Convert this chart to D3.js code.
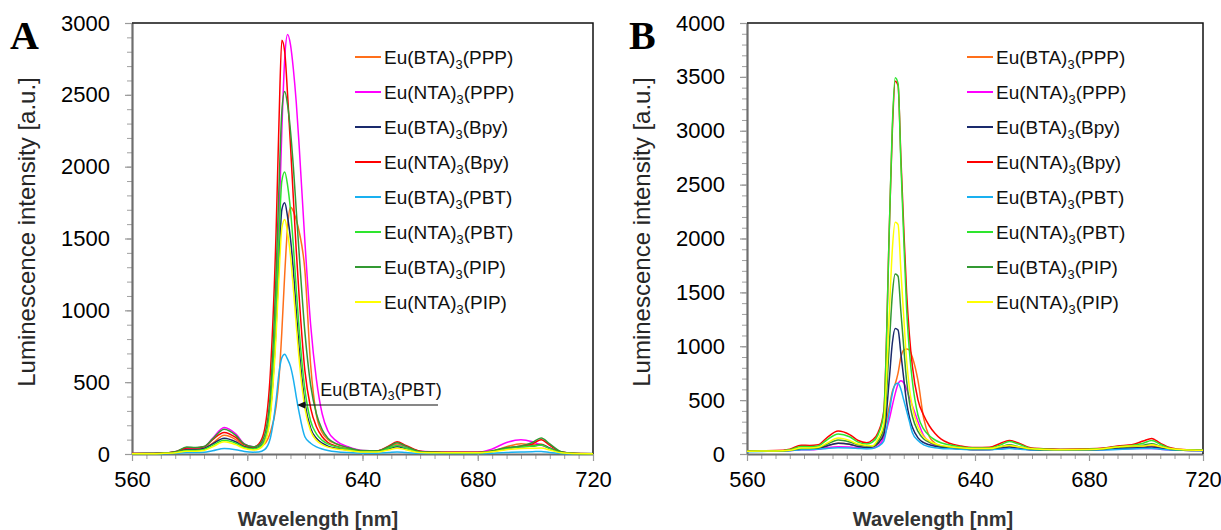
<!DOCTYPE html>
<html>
<head>
  <meta charset="utf-8">
  <title>Eu complexes emission</title>
  <style>
    body { margin: 0; background: #fff; }
    svg text { font-family: 'Liberation Sans', Arial, sans-serif; }
    svg text.letter { font-family: 'Liberation Serif', 'Times New Roman', serif; font-weight: bold; }
  </style>
</head>
<body>
  <div id="chart"></div>
  <script src="https://d3js.org/d3.v7.min.js"></script>
  <script>
    // wavelength grid (nm) shared by every curve
    let wavelengths = [560, 565, 570, 575, 579, 582, 585, 588, 592, 596,
      599, 602, 604, 606, 608, 610, 611, 612, 613, 614,
      615, 616, 617, 618, 620, 622, 624, 626, 628, 631,
      635, 640, 645, 649, 652, 655, 660, 665, 670, 680,
      685, 690, 695, 699, 702, 705, 709, 713, 720];

    let seriesNames = ['BTA|PPP', 'NTA|PPP', 'BTA|Bpy', 'NTA|Bpy', 'BTA|PBT', 'NTA|PBT', 'BTA|PIP', 'NTA|PIP'];
    let seriesColors = ['#ff6f1a', '#ff00ff', '#1a2a6c', '#ff0000', '#19b0f0', '#2ee52e', '#339933', '#ffff00'];

    let xTicks = [560, 600, 640, 680, 720];
    let yTicksA = [0, 500, 1000, 1500, 2000, 2500, 3000];
    let yTicksB = [0, 500, 1000, 1500, 2000, 2500, 3000, 3500, 4000];

    // panel A
    let aBtaPpp = [3, 3, 5, 12, 30, 32, 40, 75, 130, 100,
      55, 42, 50, 70, 150, 330, 520, 850, 1250, 1580,
      1717, 1690, 1630, 1550, 1280, 620, 270, 150, 100, 70,
      45, 22, 22, 45, 70, 50, 18, 12, 10, 10,
      20, 50, 72, 65, 70, 40, 10, 4, 2];
    let aNtaPpp = [3, 3, 5, 15, 40, 42, 50, 110, 185, 140,
      70, 50, 60, 100, 300, 1000, 1600, 2250, 2750, 2920,
      2850, 2680, 2450, 2150, 1480, 900, 520, 280, 160, 90,
      50, 25, 22, 40, 60, 45, 20, 15, 12, 12,
      35, 80, 100, 85, 62, 40, 12, 5, 2];
    let aBtaBpy = [2, 3, 5, 12, 30, 30, 38, 70, 110, 85,
      50, 40, 50, 90, 290, 880, 1330, 1700, 1748, 1650,
      1500, 1280, 1000, 740, 360, 180, 110, 75, 55, 40,
      28, 18, 18, 35, 50, 38, 15, 10, 9, 9,
      18, 40, 50, 55, 65, 40, 10, 4, 2];
    let aNtaBpy = [3, 3, 5, 15, 42, 42, 50, 100, 150, 115,
      65, 48, 70, 170, 560, 1540, 2300, 2880, 2800, 2500,
      2150, 1780, 1420, 1100, 580, 320, 190, 120, 80, 55,
      35, 22, 22, 55, 85, 60, 20, 14, 12, 12,
      20, 40, 55, 70, 100, 60, 15, 5, 2];
    let aBtaPbt = [1, 1, 2, 5, 10, 10, 12, 22, 38, 30,
      18, 13, 14, 30, 110, 370, 560, 670, 694, 660,
      610, 520, 400, 290, 120, 75, 50, 35, 25, 16,
      10, 6, 6, 10, 14, 10, 5, 4, 4, 4,
      6, 10, 14, 16, 18, 10, 4, 2, 1];
    let aNtaPbt = [2, 3, 4, 10, 25, 25, 32, 60, 95, 75,
      45, 35, 45, 95, 320, 1000, 1500, 1900, 1963, 1870,
      1700, 1450, 1150, 870, 450, 230, 140, 95, 70, 50,
      33, 18, 18, 40, 60, 42, 14, 10, 9, 9,
      18, 38, 50, 55, 62, 38, 10, 4, 2];
    let aBtaPip = [3, 3, 5, 15, 48, 45, 52, 105, 172, 130,
      68, 50, 62, 130, 420, 1250, 1850, 2380, 2523, 2430,
      2250, 2000, 1700, 1400, 850, 480, 280, 170, 110, 70,
      45, 24, 22, 50, 78, 55, 18, 12, 10, 10,
      22, 45, 55, 80, 112, 70, 15, 5, 3];
    let aNtaPip = [2, 2, 4, 8, 20, 20, 25, 50, 85, 65,
      38, 28, 35, 75, 260, 820, 1230, 1570, 1632, 1540,
      1380, 1150, 900, 660, 320, 160, 95, 65, 48, 35,
      25, 14, 14, 28, 40, 30, 10, 8, 8, 8,
      15, 30, 38, 40, 42, 28, 8, 3, 2];

    // panel B
    let bBtaPpp = [25, 27, 28, 35, 50, 50, 55, 75, 100, 90,
      70, 60, 65, 100, 200, 450, 580, 650, 750, 900,
      965, 974, 965, 900, 680, 330, 160, 100, 75, 60,
      50, 40, 42, 55, 70, 60, 40, 35, 35, 38,
      45, 60, 65, 70, 75, 60, 40, 35, 32];
    let bNtaPpp = [25, 27, 28, 32, 40, 40, 45, 58, 68, 65,
      58, 52, 55, 75, 150, 330, 450, 560, 650, 680,
      660, 600, 520, 450, 300, 170, 110, 80, 65, 55,
      48, 42, 42, 48, 55, 50, 40, 38, 38, 38,
      40, 45, 50, 50, 52, 45, 38, 35, 32];
    let bBtaBpy = [25, 27, 28, 33, 45, 45, 50, 75, 100, 90,
      70, 60, 65, 100, 180, 720, 1030, 1165, 1150, 930,
      700, 480, 340, 250, 150, 105, 85, 72, 63, 56,
      48, 42, 42, 55, 65, 55, 40, 38, 38, 38,
      42, 50, 55, 60, 65, 55, 40, 35, 32];
    let bNtaBpy = [28, 30, 32, 45, 82, 80, 85, 150, 213, 180,
      125, 105, 130, 200, 400, 2150, 3000, 3460, 3420, 2750,
      2100, 1500, 1100, 820, 500, 360, 260, 190, 140, 100,
      75, 60, 62, 100, 125, 105, 55, 48, 45, 48,
      55, 75, 85, 120, 145, 100, 55, 42, 38];
    let bBtaPbt = [22, 24, 25, 30, 40, 40, 45, 52, 58, 56,
      52, 48, 50, 70, 120, 400, 560, 645, 656, 600,
      500, 400, 300, 200, 125, 85, 68, 58, 52, 48,
      44, 40, 40, 45, 50, 46, 38, 36, 36, 36,
      38, 42, 46, 50, 52, 45, 38, 34, 30];
    let bNtaPbt = [25, 27, 28, 40, 70, 68, 75, 130, 186, 160,
      110, 92, 110, 180, 380, 2150, 3050, 3492, 3440, 2700,
      2000, 1350, 950, 680, 360, 230, 170, 130, 105, 85,
      65, 55, 55, 85, 115, 95, 50, 45, 42, 45,
      50, 68, 78, 100, 125, 90, 50, 40, 36];
    let bBtaPip = [25, 27, 28, 34, 52, 52, 58, 90, 130, 112,
      85, 75, 72, 120, 240, 1050, 1480, 1670, 1650, 1320,
      990, 680, 480, 350, 210, 140, 108, 88, 75, 65,
      55, 48, 48, 65, 85, 70, 45, 40, 40, 40,
      46, 62, 70, 82, 95, 72, 45, 38, 34];
    let bNtaPip = [25, 27, 28, 35, 55, 55, 62, 100, 148, 125,
      92, 80, 75, 140, 280, 1350, 1900, 2150, 2130, 1700,
      1270, 870, 610, 440, 250, 160, 120, 95, 80, 68,
      58, 50, 50, 70, 80, 68, 48, 42, 40, 42,
      48, 65, 75, 75, 85, 70, 48, 40, 35];

    let panelA = [aBtaPpp, aNtaPpp, aBtaBpy, aNtaBpy, aBtaPbt, aNtaPbt, aBtaPip, aNtaPip];
    let panelB = [bBtaPpp, bNtaPpp, bBtaBpy, bNtaBpy, bBtaPbt, bNtaPbt, bBtaPip, bNtaPip];

    function translate(x, y) {
      return 'translate(' + x + ',' + y + ')';
    }

    let svg = d3.select('#chart').append('svg')
      .attr('width', 1221)
      .attr('height', 530);

    // writes Eu(XXX)3(YYY) with a subscript 3
    function euLabel(sel, name, size) {
      let parts = name.split('|');
      sel.append('tspan').text('Eu(' + parts[0] + ')');
      sel.append('tspan').attr('font-size', size * 0.68).attr('dy', size * 0.25).text('3');
      sel.append('tspan').attr('dy', -size * 0.25).text('(' + parts[1] + ')');
    }

    function drawPanel(p) {
      let x = d3.scaleLinear().domain([560, 720]).range([p.left, p.right]);
      let y = d3.scaleLinear().domain([0, p.yMax]).range([p.bottom, p.top]);
      let g = svg.append('g');

      // minor ticks
      g.append('g')
        .attr('transform', translate(0, p.bottom))
        .call(d3.axisBottom(x).tickValues(d3.range(560, 721, 5)).tickSize(5).tickSizeOuter(0).tickFormat(''))
        .call(a => a.select('.domain').remove())
        .call(a => a.selectAll('line').attr('stroke', '#a0a0a0'));
      g.append('g')
        .attr('transform', translate(p.left, 0))
        .call(d3.axisLeft(y).tickValues(d3.range(0, p.yMax + 1, 100)).tickSize(5).tickSizeOuter(0).tickFormat(''))
        .call(a => a.select('.domain').remove())
        .call(a => a.selectAll('line').attr('stroke', '#a0a0a0'));

      // major ticks + labels
      let xAxis = g.append('g')
        .attr('transform', translate(0, p.bottom))
        .call(d3.axisBottom(x).tickValues(xTicks).tickSize(7).tickPadding(10).tickSizeOuter(0).tickFormat(d3.format('d')));
      let yAxis = g.append('g')
        .attr('transform', translate(p.left, 0))
        .call(d3.axisLeft(y).tickValues(p.yTicks).tickSize(7).tickPadding(15).tickSizeOuter(0).tickFormat(d3.format('d')));
      [xAxis, yAxis].forEach(a => {
        a.attr('font-family', null);
        a.select('.domain').attr('stroke', '#6e6e6e').attr('stroke-width', 2.2);
        a.selectAll('.tick line').attr('stroke', '#9a9a9a').attr('stroke-width', 1.2);
        a.selectAll('.tick text').attr('font-size', 22).attr('fill', '#000');
      });

      // top and right border
      g.append('path')
        .attr('d', 'M' + p.left + ',' + p.top + 'H' + p.right + 'V' + p.bottom)
        .attr('fill', 'none')
        .attr('stroke', '#111')
        .attr('stroke-width', 1.5);

      let line = d3.line()
        .x((d, i) => x(wavelengths[i]))
        .y(d => y(d))
        .curve(d3.curveMonotoneX);

      g.selectAll('.curve')
        .data(p.series)
        .enter()
        .append('path')
        .attr('class', 'curve')
        .attr('d', d => line(d))
        .attr('fill', 'none')
        .attr('stroke', (d, i) => seriesColors[i])
        .attr('stroke-width', 1.5);

      // legend
      let leg = g.selectAll('.leg')
        .data(seriesNames)
        .enter()
        .append('g')
        .attr('class', 'leg')
        .attr('transform', (d, i) => translate(p.legX, 57 + i * 35));
      leg.append('line')
        .attr('x1', 0).attr('x2', 26)
        .attr('stroke', (d, i) => seriesColors[i])
        .attr('stroke-width', 2);
      leg.append('text')
        .attr('x', 29)
        .attr('y', 7)
        .attr('font-size', 19)
        .attr('fill', '#111')
        .each(function (d) { euLabel(d3.select(this), d, 19); });

      // axis titles
      g.append('text')
        .attr('transform', translate(p.left - 97, 232) + ' rotate(-90)')
        .attr('text-anchor', 'middle')
        .attr('font-size', 24)
        .attr('fill', '#262626')
        .text('Luminescence intensity [a.u.]');
      g.append('text')
        .attr('x', p.left + 186)
        .attr('y', 526)
        .attr('text-anchor', 'middle')
        .attr('font-size', 20)
        .attr('font-weight', 'bold')
        .attr('fill', '#333')
        .text('Wavelength [nm]');

      g.append('text')
        .attr('class', 'letter')
        .attr('x', p.letterX)
        .attr('y', 49)
        .attr('font-size', 40)
        .attr('fill', '#000')
        .text(p.letter);

      if (p.note) {
        let n = p.note;
        g.append('text')
          .attr('x', x(n.textWl))
          .attr('y', y(n.textVal))
          .attr('font-size', 18)
          .attr('fill', '#111')
          .each(function () { euLabel(d3.select(this), n.name, 18); });
        let tipX = x(n.tipWl), tailX = x(n.tailWl), ay = y(n.arrowVal);
        g.append('line')
          .attr('x1', tailX).attr('x2', tipX + 7)
          .attr('y1', ay).attr('y2', ay)
          .attr('stroke', '#111')
          .attr('stroke-width', 1.2);
        g.append('path')
          .attr('d', 'M' + tipX + ',' + ay + 'l8,-3.5v7z')
          .attr('fill', '#111');
      }
    }

    drawPanel({
      letter: 'A', letterX: 10,
      left: 132, right: 593, top: 23, bottom: 454,
      yMax: 3000, yTicks: yTicksA, series: panelA, legX: 355,
      note: { name: 'BTA|PBT', textWl: 625.3, textVal: 404, tipWl: 617.3, tailWl: 666.2, arrowVal: 341 }
    });
    drawPanel({
      letter: 'B', letterX: 629,
      left: 747, right: 1203, top: 23, bottom: 454,
      yMax: 4000, yTicks: yTicksB, series: panelB, legX: 967
    });
  </script>
</body>
</html>
